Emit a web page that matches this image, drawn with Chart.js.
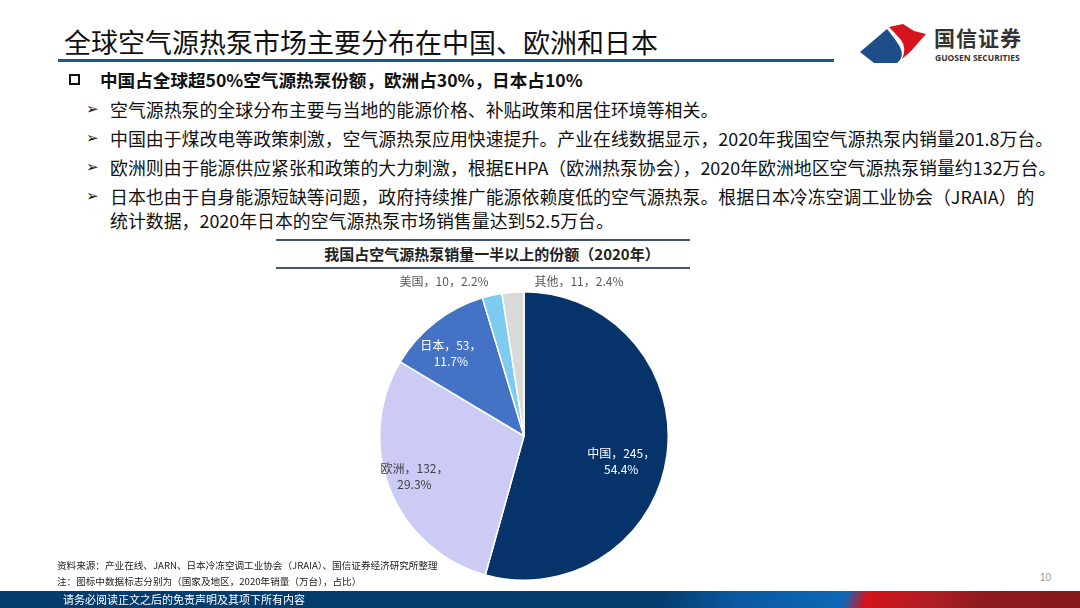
<!DOCTYPE html>
<html>
<head>
<meta charset="utf-8">
<script src="https://cdn.jsdelivr.net/npm/chart.js@4/dist/chart.umd.min.js"></script>
<style>
  html, body { margin: 0; padding: 0; }
  body {
    width: 1080px; height: 608px; position: relative; overflow: hidden;
    background: #fff; font-family: "Noto Sans CJK SC", "Noto Sans", sans-serif; color: #111;
  }
  .abs { position: absolute; white-space: nowrap; }
  #title { left: 64px; top: 26px; font-size: 27px; line-height: 32px; color: #111; }
  #title-line { left: 58px; top: 59px; width: 776px; height: 3px; background: #1d5a86; }
  .logo-cn { left: 934px; top: 24px; font-size: 21px; font-weight: bold; color: #333; letter-spacing: 1px; line-height: 26px; }
  .logo-en { left: 935px; top: 53px; font-size: 8.5px; font-weight: bold; color: #333; line-height: 10px; font-family: "Open Sans", sans-serif; }
  .box { left: 69px; top: 74px; width: 7px; height: 7px; border: 2.5px solid #111; }
  .lead { left: 100px; top: 68px; font-size: 17.6px; font-weight: bold; line-height: 24px; }
  .arrow { left: 86px; font-size: 15px; font-family: "DejaVu Sans", sans-serif; line-height: 24px; }
  .sub { left: 110px; font-size: 17.9px; line-height: 24px; }
  .rule { left: 276px; width: 414px; height: 2px; background: #44546a; }
  #chart-title { left: 294px; width: 396px; top: 242px; text-align: center; font-size: 15px; font-weight: bold; line-height: 24px; color: #222; }
  #wrap { left: 364px; top: 266px; width: 320px; height: 340px; }
  .note { left: 57px; font-size: 9.6px; line-height: 14px; color: #222; z-index: 2; }
  #footer { left: 0; top: 591px; width: 1080px; height: 17px;
    background: linear-gradient(110deg, #053c6e 0%, #053c6e 61%, #0a58a0 68%, #0f67b6 78%, #d3141c 80%, #b01d24 86%, #8c1a20 91%, #861a1f 100%); }
  #footer span { position: absolute; left: 63px; top: 0; font-size: 11px; line-height: 17px; color: #fff; }
  #page { left: 1040px; top: 572px; font-size: 10px; color: #999; font-family: "Liberation Sans", sans-serif; }
</style>
</head>
<body>
<div id="title" class="abs">全球空气源热泵市场主要分布在中国、欧洲和日本</div>
<div id="title-line" class="abs"></div>

<svg class="abs" style="left:855px;top:20px" width="75" height="48" viewBox="855 20 75 48">
  <path d="M860,52 L887,29 Q896,40 900,47 Q905,57 897,63 L874,63 Z" fill="#1d4e89"/>
  <path d="M889,27 L903,24 L914,31 L926,34 L911,51 L902,59 Q907,48 901,40 Q895,33 889,27 Z" fill="#d5141d"/>
</svg>
<div class="abs logo-cn">国信证券</div>
<div class="abs logo-en">GUOSEN SECURITIES</div>

<div class="abs box"></div>
<div class="abs lead">中国占全球超50%空气源热泵份额，欧洲占30%，日本占10%</div>

<div class="abs arrow" style="top:97px">➢</div>
<div class="abs sub" style="top:97px">空气源热泵的全球分布主要与当地的能源价格、补贴政策和居住环境等相关。</div>
<div class="abs arrow" style="top:126px">➢</div>
<div class="abs sub" style="top:126px">中国由于煤改电等政策刺激，空气源热泵应用快速提升。产业在线数据显示，2020年我国空气源热泵内销量201.8万台。</div>
<div class="abs arrow" style="top:155px">➢</div>
<div class="abs sub" style="top:155px">欧洲则由于能源供应紧张和政策的大力刺激，根据EHPA（欧洲热泵协会），2020年欧洲地区空气源热泵销量约132万台。</div>
<div class="abs arrow" style="top:184px">➢</div>
<div class="abs sub" style="top:184px">日本也由于自身能源短缺等问题，政府持续推广能源依赖度低的空气源热泵。根据日本冷冻空调工业协会（JRAIA）的<br>统计数据，2020年日本的空气源热泵市场销售量达到52.5万台。</div>

<div class="abs rule" style="top:239px"></div>
<div id="chart-title" class="abs">我国占空气源热泵销量一半以上的份额（2020年）</div>
<div class="abs rule" style="top:267px"></div>

<div id="wrap" class="abs"><canvas id="pie" width="320" height="340"></canvas></div>

<div class="abs note" style="top:558px">资料来源：产业在线、JARN、日本冷冻空调工业协会（JRAIA）、国信证券经济研究所整理</div>
<div class="abs note" style="top:574px">注：图标中数据标志分别为（国家及地区，2020年销量（万台），占比）</div>
<div id="page" class="abs">10</div>
<div id="footer" class="abs"><span>请务必阅读正文之后的免责声明及其项下所有内容</span></div>

<script>
// data (万台, share)
const regions = ['中国', '欧洲', '日本', '美国', '其他'];
const sales = [245, 132, 53, 10, 11];
const shares = ['54.4%', '29.3%', '11.7%', '2.2%', '2.4%'];

const colors = ['#05336a', '#cbcbf6', '#4472c4', '#7ecbf2', '#d9d9d9'];

// where each data label goes: fraction of radius along the mid angle, plus a nudge
const labelStyle = [
    { r: 0.68, dx: 0, dy: 12, color: '#ffffff', wrap: true },
    { r: 0.81, dx: -1, dy: -3, color: '#404040', wrap: true },
    { r: 0.78, dx: -4, dy: 6, color: '#ffffff', wrap: true },
    { r: 1.0, dx: -48, dy: -14, color: '#595959', wrap: false },
    { r: 1.0, dx: 66, dy: -11, color: '#595959', wrap: false }
];

const sliceLabels = {
    id: 'sliceLabels',
    afterDatasetsDraw(chart) {
        const ctx = chart.ctx;
        const arcs = chart.getDatasetMeta(0).data;
        ctx.save();
        ctx.font = '12px "Noto Sans CJK SC", sans-serif';
        ctx.textAlign = 'center';
        ctx.textBaseline = 'middle';
        arcs.forEach((arc, i) => {
            const s = labelStyle[i];
            const mid = (arc.startAngle + arc.endAngle) / 2;
            const x = arc.x + Math.cos(mid) * arc.outerRadius * s.r + s.dx;
            const y = arc.y + Math.sin(mid) * arc.outerRadius * s.r + s.dy;
            const lines = s.wrap
                ? [regions[i] + '，' + sales[i] + '，', shares[i]]
                : [regions[i] + '，' + sales[i] + '，' + shares[i]];
            ctx.fillStyle = s.color;
            lines.forEach((t, k) => {
                ctx.fillText(t, x, y + (k - (lines.length - 1) / 2) * 16);
            });
        });
        ctx.restore();
    }
};

new Chart(document.getElementById('pie').getContext('2d'), {
    type: 'pie',
    data: {
        labels: regions,
        datasets: [{
            data: sales,
            backgroundColor: colors,
            borderColor: '#ffffff',
            borderWidth: 1.5
        }]
    },
    options: {
        responsive: false,
        animation: false,
        layout: { padding: { left: 15, right: 15, top: 25, bottom: 25 } },
        plugins: {
            legend: { display: false },
            tooltip: { enabled: false }
        }
    },
    plugins: [sliceLabels]
});
</script>
</body>
</html>
